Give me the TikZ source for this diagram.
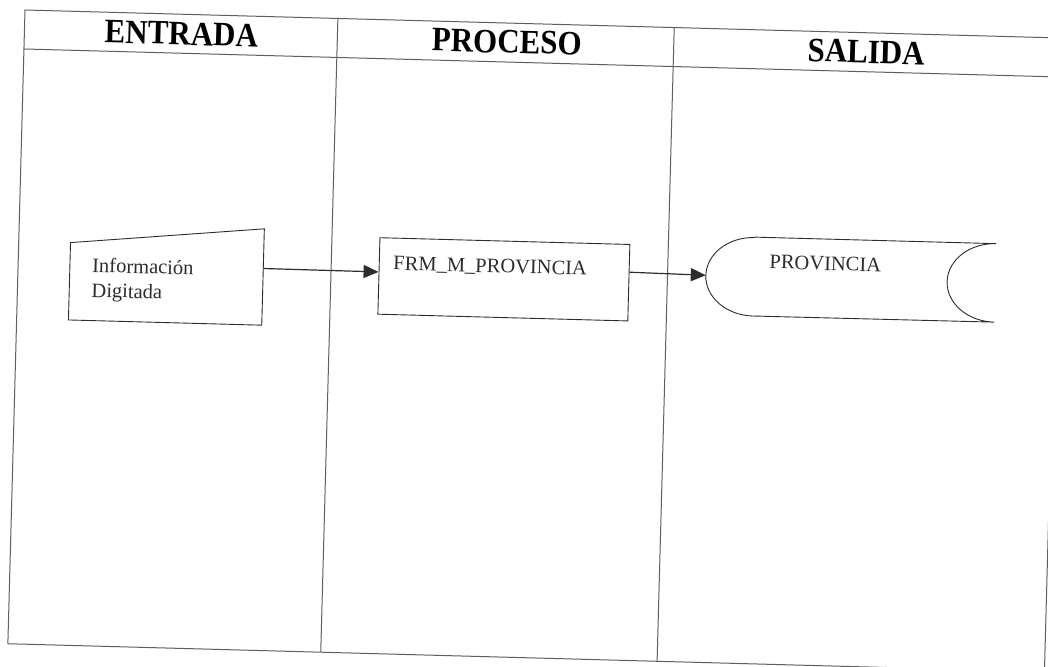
\documentclass[tikz,border=0pt]{standalone}
\usepackage{fontspec}
\setmainfont{Liberation Serif}
\usepackage{xcolor}
\usetikzlibrary{arrows.meta, positioning, calc}

\definecolor{scanline}{RGB}{95,95,95}
\definecolor{scanink}{RGB}{45,45,45}

\begin{document}
\begin{tikzpicture}[x=1pt, y=1pt,
    frameline/.style={draw=scanline, line width=1pt},
    shapeline/.style={draw=scanink, line width=0.9pt},
    flow/.style={draw=scanink, line width=1.2pt, -{Triangle[length=15pt, width=13pt]}},
    header/.style={inner sep=0pt, yscale=1.1, font=\fontsize{31}{36}\selectfont\bfseries, text=black},
    bodytext/.style={inner sep=0pt, font=\fontsize{20.5}{25}\selectfont, text=scanink, align=left},
    hollow/.style={inner sep=0pt, draw=none}]
  \clip (0,0) rectangle (1048,-666);
  \fill[white] (0,0) rectangle (1048,-666);
  \begin{scope}[shift={(25,-10)}, rotate=-1.55, transform shape]
    % lanes
    \draw[frameline] (0,0) rectangle (1037,-634);
    \draw[frameline] (0,-39) -- (1037,-39);
    \draw[frameline] (313,0) -- (313,-634);
    \draw[frameline] (649.5,0) -- (649.5,-634);
    \node[header] (entrada) at (157,-19.3) {ENTRADA};
    \node[header] (proceso) at (482.5,-18.8) {PROCESO};
    \node[header] (salida) at (842,-19.2) {SALIDA};
    % input
    \node[hollow, minimum width=193, minimum height=96] (inp) at (148.5,-260.5) {};
    \draw[shapeline] (inp.south west) -- (inp.south east) -- (inp.north east)
        -- ([yshift=-19]inp.north west) -- cycle;
    \node[bodytext, anchor=west] (inptxt) at (74,-267.7) {Información\\Digitada};
    % process
    \node[hollow, shapeline, minimum width=250, minimum height=76.5] (frm) at (486,-256.3) {};
    \node[bodytext] (frmtxt) at ([xshift=-14, yshift=12]frm.center) {FRM\_M\_PROVINCIA};
    % stored data
    \node[hollow, minimum width=289, minimum height=78.5] (store) at (832.5,-246.8) {};
    \draw[shapeline] ([xshift=48]store.north west) -- (store.north east)
        arc (90:270:48 and 39.25) -- ([xshift=48]store.south west)
        arc (270:90:48 and 39.25);
    \node[bodytext] (storetxt) at ([xshift=-25.5, yshift=15]store.center) {PROVINCIA};
    % flows
    \draw[flow] ([yshift=8.5]inp.east) -- ([yshift=4]frm.west);
    \draw[flow] ([yshift=10.5]frm.east) -- (store.west);
  \end{scope}
\end{tikzpicture}
\end{document}
